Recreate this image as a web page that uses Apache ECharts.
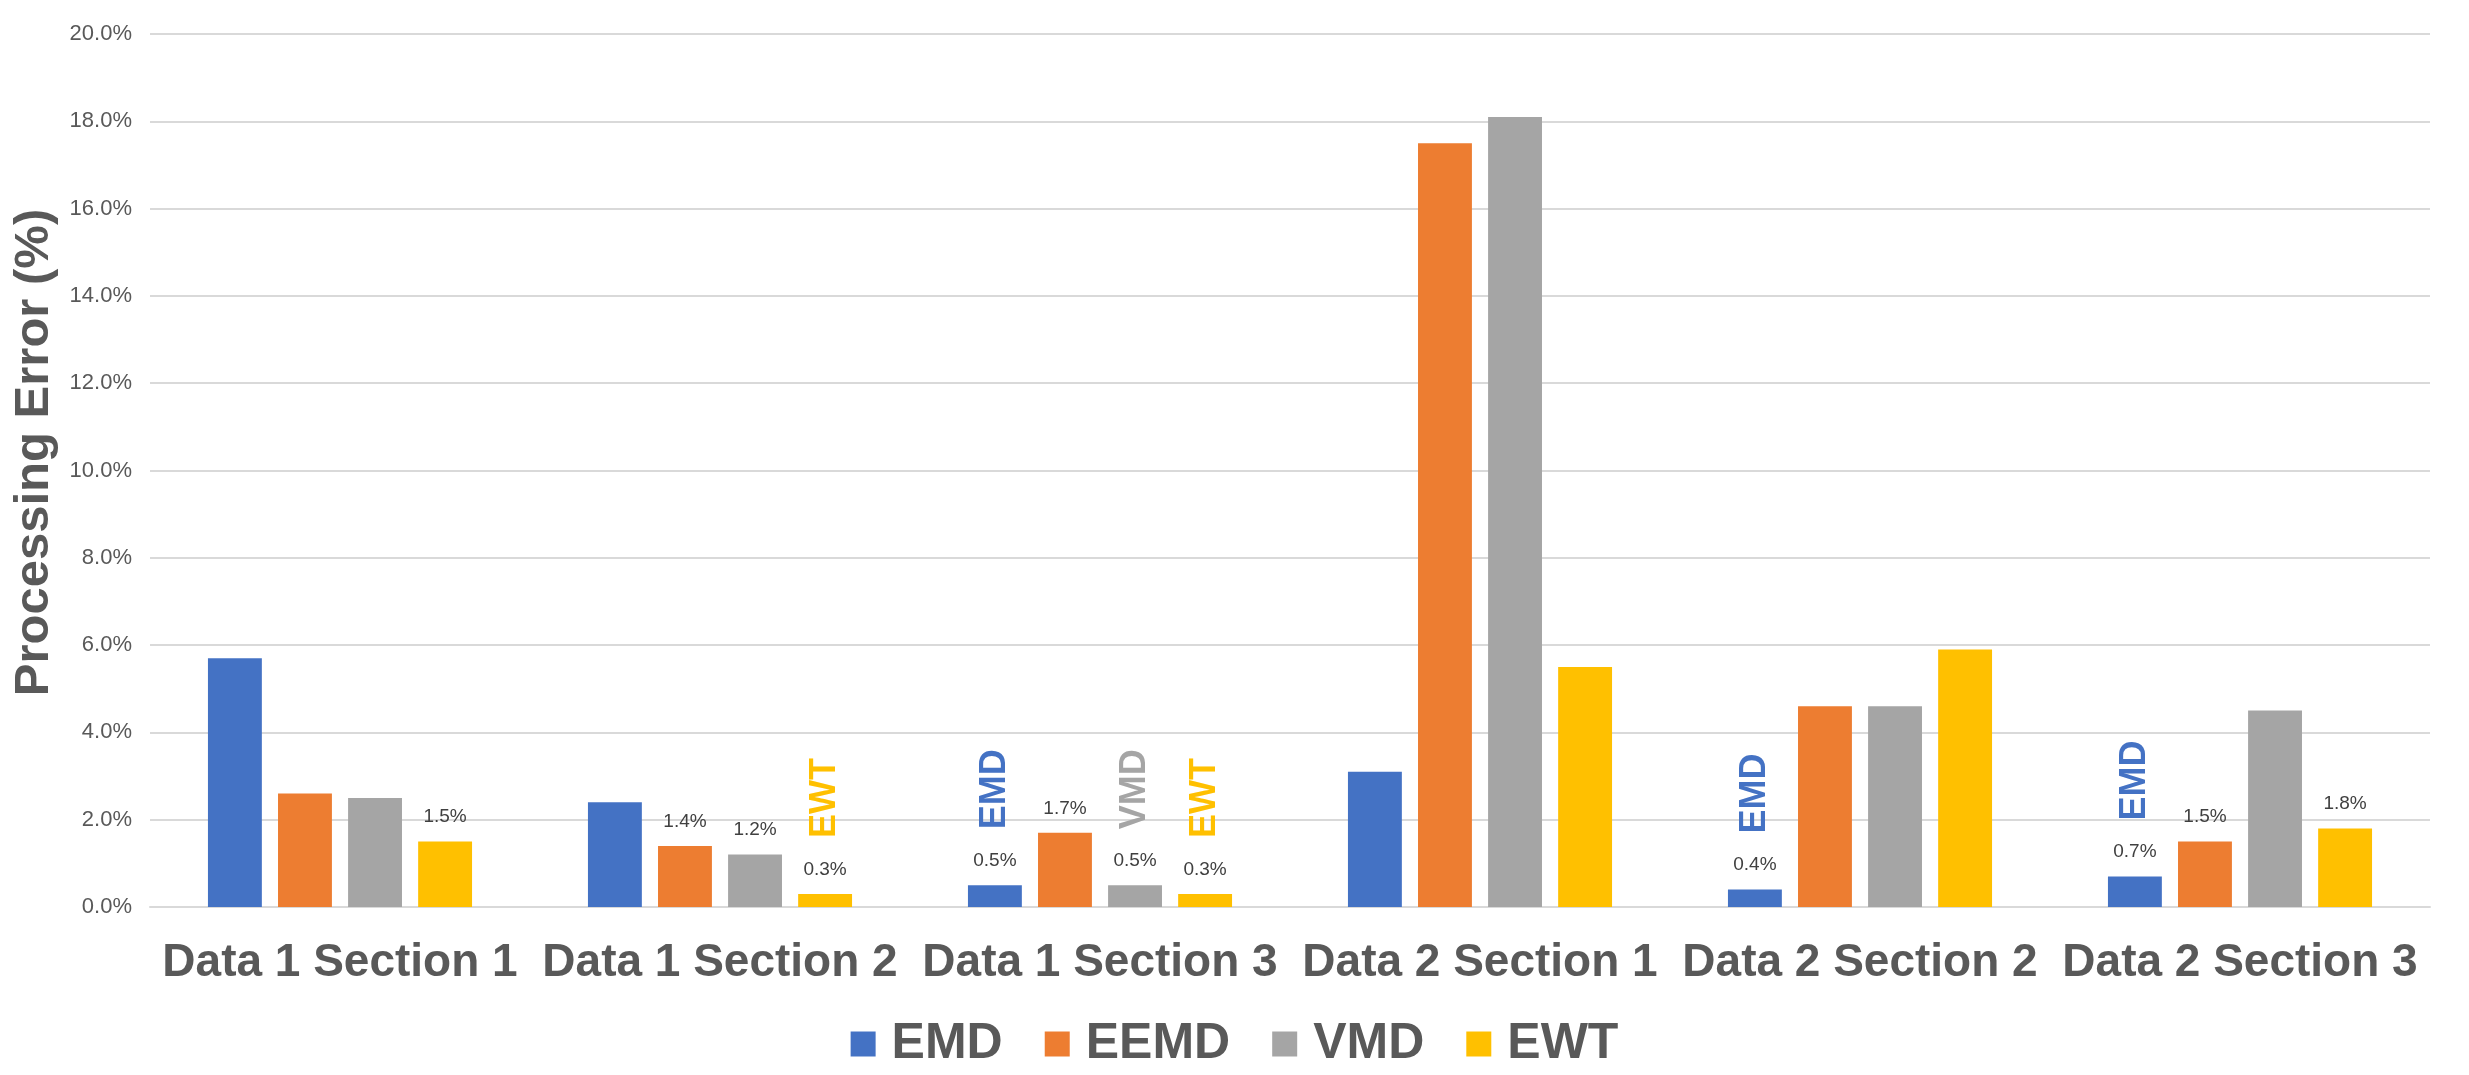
<!DOCTYPE html>
<html>
<head>
<meta charset="utf-8">
<script src="https://cdn.jsdelivr.net/npm/echarts@6/dist/echarts.min.js"></script>
<style>html,body{margin:0;padding:0;background:#fff;}#c{width:2469px;height:1075px;}</style>
</head>
<body>
<div id="c"></div>
<script>
const categories = ['Data 1 Section 1', 'Data 1 Section 2', 'Data 1 Section 3', 'Data 2 Section 1', 'Data 2 Section 2', 'Data 2 Section 3'];
const methods = ['EMD', 'EEMD', 'VMD', 'EWT'];
const emd  = [5.7, 2.4, 0.5, 3.1, 0.4, 0.7];
const eemd = [2.6, 1.4, 1.7, 17.5, 4.6, 1.5];
const vmd  = [2.5, 1.2, 0.5, 18.1, 4.6, 4.5];
const ewt  = [1.5, 0.3, 0.3, 5.5, 5.9, 1.8];
const yTicks = [0, 2, 4, 6, 8, 10, 12, 14, 16, 18, 20];
// indices of categories where the value label is shown, per method
const valueLabelIdx = [[2, 4, 5], [1, 2, 5], [1, 2], [0, 1, 2, 5]];
// indices of categories where the rotated method name is shown, per method
const nameLabelIdx = [[2, 4, 5], [], [2], [1, 2]];

const values = [emd, eemd, vmd, ewt];
const colors = ['#4472C4', '#ED7D31', '#A5A5A5', '#FFC000'];
const font = 'Liberation Sans, Arial, sans-serif';

const baseSeries = methods.map((m, i) => ({
  name: m,
  type: 'bar',
  xAxisIndex: 0,
  barGap: '30%',
  barCategoryGap: '30.5%',
  itemStyle: { color: colors[i] },
  label: {
    show: false, position: 'top', distance: 15,
    fontFamily: font, fontSize: 19, color: '#404040',
    formatter: p => p.value.toFixed(1) + '%'
  },
  data: values[i].map((v, j) => valueLabelIdx[i].includes(j) ? { value: v, label: { show: true } } : v)
}));

const nameSeries = methods.map((m, i) => ({
  name: m + '-name',
  type: 'bar',
  xAxisIndex: 1,
  silent: true,
  barGap: '30%',
  barCategoryGap: '30.5%',
  itemStyle: { color: 'rgba(0,0,0,0)' },
  label: {
    show: false, position: 'top', distance: 56, rotate: 90,
    align: 'left', verticalAlign: 'middle',
    fontFamily: font, fontSize: 36, fontWeight: 'bold', color: colors[i],
    formatter: () => m
  },
  data: values[i].map((v, j) => nameLabelIdx[i].includes(j) ? { value: v, label: { show: true } } : v)
}));

const chart = echarts.init(document.getElementById('c'), null, { renderer: 'canvas' });
chart.setOption({
  animation: false,
  backgroundColor: '#ffffff',
  color: colors,
  grid: { left: 150, right: 39, top: 34, bottom: 168, containLabel: false, outerBoundsMode: 'none' },
  legend: {
    data: methods,
    left: 'center',
    top: 1014,
    itemWidth: 25, itemHeight: 25, itemGap: 42,
    icon: 'rect',
    textStyle: { fontFamily: font, fontSize: 50, fontWeight: 'bold', color: '#595959', padding: [0, 0, 0, 11] }
  },
  xAxis: [{
    type: 'category',
    data: categories,
    axisLine: { show: true, lineStyle: { color: '#d9d9d9', width: 2 } },
    axisTick: { show: false },
    axisLabel: { interval: 0, margin: 33, fontFamily: font, fontSize: 46, fontWeight: 'bold', color: '#595959' }
  }, {
    type: 'category',
    data: categories,
    show: false
  }],
  yAxis: {
    type: 'value',
    min: yTicks[0], max: yTicks[yTicks.length - 1], interval: 2,
    name: 'Processing Error (%)',
    nameLocation: 'middle',
    nameGap: 86,
    nameTextStyle: { fontFamily: font, fontSize: 49, fontWeight: 'bold', color: '#595959', padding: [0, 0, 0, 36] },
    axisLine: { show: false },
    axisTick: { show: false },
    splitLine: { lineStyle: { color: '#d9d9d9', width: 2 } },
    axisLabel: { margin: 18, fontFamily: font, fontSize: 22, color: '#595959', formatter: v => v.toFixed(1) + '%' }
  },
  series: baseSeries.concat(nameSeries)
});
</script>
</body>
</html>
